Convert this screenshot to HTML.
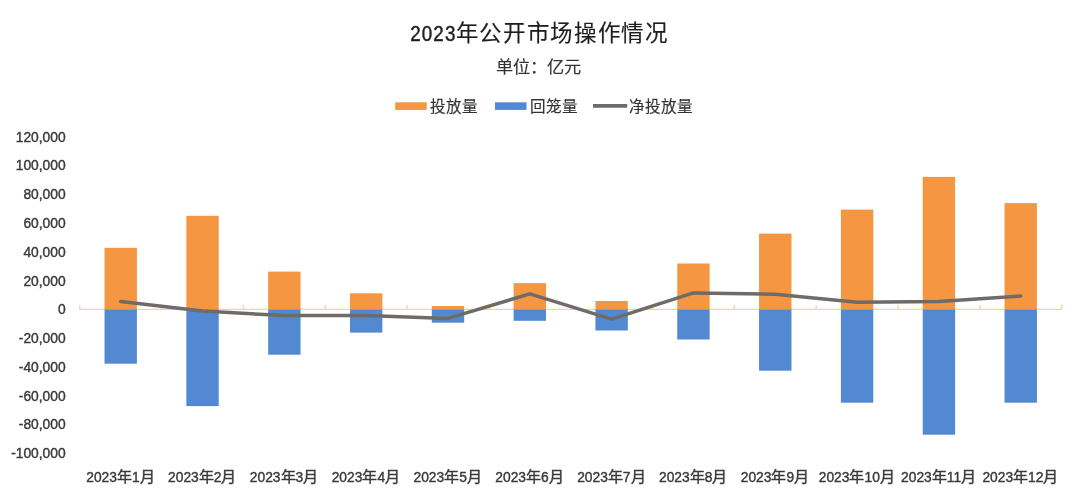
<!DOCTYPE html>
<html lang="zh-CN"><head><meta charset="utf-8">
<style>
html,body{margin:0;padding:0;background:#fff;width:1080px;height:499px;overflow:hidden}
svg{position:absolute;left:0;top:0;will-change:transform}
text{font-family:"Liberation Sans",sans-serif;fill:#3a3a3a}
.yl{font-size:13.8px;stroke:#3a3a3a;stroke-width:0.4px}
.xl{font-size:13.8px;stroke:#3a3a3a;stroke-width:0.4px}
.xc{font-size:15px}
.title{font-size:21.6px;fill:#1e1e1e;stroke:#1e1e1e;stroke-width:0.45px;letter-spacing:1.3px}
.tc{font-size:22.5px;letter-spacing:0.7px;fill:#1e1e1e;stroke:#1e1e1e;stroke-width:0.15px}
.sub{font-size:17.2px;fill:#333;stroke:#333;stroke-width:0.15px}
.leg{font-size:15.55px;fill:#333;stroke:#333;stroke-width:0.15px}
</style></head><body>
<svg width="1080" height="499" viewBox="0 0 1080 499">
<text transform="translate(410.2,41.3) scale(0.87,1)" x="0" y="0" class="title">2023</text><text x="455.6" y="41.4" class="tc">年公开市场操作情况</text>
<text x="495.6" y="73.1" class="sub">单位：亿元</text>
<rect x="395.2" y="102.3" width="31.5" height="7.6" fill="#F59643"/>
<text x="430" y="111.8" class="leg">投放量</text>
<rect x="495" y="102.3" width="31.5" height="7.6" fill="#5389D1"/>
<text x="529.6" y="111.8" class="leg">回笼量</text>
<line x1="593" y1="105.8" x2="627.2" y2="105.8" stroke="#6E6B68" stroke-width="3.8"/>
<text x="629.4" y="111.8" class="leg">净投放量</text>
<line x1="79.8" y1="309.4" x2="1061.64" y2="309.4" stroke="#E4DE9C" stroke-width="1.4"/>
<line x1="79.80" y1="304.9" x2="79.80" y2="309.4" stroke="#E4DE9C" stroke-width="1.4"/>
<line x1="161.62" y1="304.9" x2="161.62" y2="309.4" stroke="#E4DE9C" stroke-width="1.4"/>
<line x1="243.44" y1="304.9" x2="243.44" y2="309.4" stroke="#E4DE9C" stroke-width="1.4"/>
<line x1="325.26" y1="304.9" x2="325.26" y2="309.4" stroke="#E4DE9C" stroke-width="1.4"/>
<line x1="407.08" y1="304.9" x2="407.08" y2="309.4" stroke="#E4DE9C" stroke-width="1.4"/>
<line x1="488.90" y1="304.9" x2="488.90" y2="309.4" stroke="#E4DE9C" stroke-width="1.4"/>
<line x1="570.72" y1="304.9" x2="570.72" y2="309.4" stroke="#E4DE9C" stroke-width="1.4"/>
<line x1="652.54" y1="304.9" x2="652.54" y2="309.4" stroke="#E4DE9C" stroke-width="1.4"/>
<line x1="734.36" y1="304.9" x2="734.36" y2="309.4" stroke="#E4DE9C" stroke-width="1.4"/>
<line x1="816.18" y1="304.9" x2="816.18" y2="309.4" stroke="#E4DE9C" stroke-width="1.4"/>
<line x1="898.00" y1="304.9" x2="898.00" y2="309.4" stroke="#E4DE9C" stroke-width="1.4"/>
<line x1="979.82" y1="304.9" x2="979.82" y2="309.4" stroke="#E4DE9C" stroke-width="1.4"/>
<line x1="1061.64" y1="304.9" x2="1061.64" y2="309.4" stroke="#E4DE9C" stroke-width="1.4"/>
<rect x="104.51" y="247.80" width="32.4" height="61.60" fill="#F59643"/>
<rect x="104.51" y="309.40" width="32.4" height="54.30" fill="#5389D1"/>
<rect x="186.33" y="215.80" width="32.4" height="93.60" fill="#F59643"/>
<rect x="186.33" y="309.40" width="32.4" height="96.70" fill="#5389D1"/>
<rect x="268.15" y="271.60" width="32.4" height="37.80" fill="#F59643"/>
<rect x="268.15" y="309.40" width="32.4" height="45.30" fill="#5389D1"/>
<rect x="349.97" y="293.30" width="32.4" height="16.10" fill="#F59643"/>
<rect x="349.97" y="309.40" width="32.4" height="23.20" fill="#5389D1"/>
<rect x="431.79" y="306.00" width="32.4" height="3.40" fill="#F59643"/>
<rect x="431.79" y="309.40" width="32.4" height="13.30" fill="#5389D1"/>
<rect x="513.61" y="283.10" width="32.4" height="26.30" fill="#F59643"/>
<rect x="513.61" y="309.40" width="32.4" height="11.40" fill="#5389D1"/>
<rect x="595.43" y="301.00" width="32.4" height="8.40" fill="#F59643"/>
<rect x="595.43" y="309.40" width="32.4" height="21.10" fill="#5389D1"/>
<rect x="677.25" y="263.50" width="32.4" height="45.90" fill="#F59643"/>
<rect x="677.25" y="309.40" width="32.4" height="30.10" fill="#5389D1"/>
<rect x="759.07" y="233.60" width="32.4" height="75.80" fill="#F59643"/>
<rect x="759.07" y="309.40" width="32.4" height="61.30" fill="#5389D1"/>
<rect x="840.89" y="209.60" width="32.4" height="99.80" fill="#F59643"/>
<rect x="840.89" y="309.40" width="32.4" height="93.30" fill="#5389D1"/>
<rect x="922.71" y="176.90" width="32.4" height="132.50" fill="#F59643"/>
<rect x="922.71" y="309.40" width="32.4" height="125.30" fill="#5389D1"/>
<rect x="1004.53" y="203.10" width="32.4" height="106.30" fill="#F59643"/>
<rect x="1004.53" y="309.40" width="32.4" height="93.30" fill="#5389D1"/>
<path d="M120.71,301.60 L202.53,311.00 L284.35,315.60 L366.17,315.40 L447.99,318.40 L529.81,293.90 L611.63,319.20 L693.45,292.90 L775.27,294.30 L857.09,302.30 L938.91,301.60 L1020.73,296.00" fill="none" stroke="#6E6B68" stroke-width="3.5" stroke-linejoin="round" stroke-linecap="round"/>
<text x="65.6" y="141.70" text-anchor="end" class="yl">120,000</text>
<text x="65.6" y="170.47" text-anchor="end" class="yl">100,000</text>
<text x="65.6" y="199.24" text-anchor="end" class="yl">80,000</text>
<text x="65.6" y="228.01" text-anchor="end" class="yl">60,000</text>
<text x="65.6" y="256.78" text-anchor="end" class="yl">40,000</text>
<text x="65.6" y="285.55" text-anchor="end" class="yl">20,000</text>
<text x="65.6" y="314.32" text-anchor="end" class="yl">0</text>
<text x="65.6" y="343.09" text-anchor="end" class="yl">-20,000</text>
<text x="65.6" y="371.86" text-anchor="end" class="yl">-40,000</text>
<text x="65.6" y="400.63" text-anchor="end" class="yl">-60,000</text>
<text x="65.6" y="429.40" text-anchor="end" class="yl">-80,000</text>
<text x="65.6" y="458.17" text-anchor="end" class="yl">-100,000</text>
<text x="120.41" y="481.8" text-anchor="middle" class="xl">2023<tspan class="xc">年</tspan>1<tspan class="xc">月</tspan></text>
<text x="202.23" y="481.8" text-anchor="middle" class="xl">2023<tspan class="xc">年</tspan>2<tspan class="xc">月</tspan></text>
<text x="284.05" y="481.8" text-anchor="middle" class="xl">2023<tspan class="xc">年</tspan>3<tspan class="xc">月</tspan></text>
<text x="365.87" y="481.8" text-anchor="middle" class="xl">2023<tspan class="xc">年</tspan>4<tspan class="xc">月</tspan></text>
<text x="447.69" y="481.8" text-anchor="middle" class="xl">2023<tspan class="xc">年</tspan>5<tspan class="xc">月</tspan></text>
<text x="529.51" y="481.8" text-anchor="middle" class="xl">2023<tspan class="xc">年</tspan>6<tspan class="xc">月</tspan></text>
<text x="611.33" y="481.8" text-anchor="middle" class="xl">2023<tspan class="xc">年</tspan>7<tspan class="xc">月</tspan></text>
<text x="693.15" y="481.8" text-anchor="middle" class="xl">2023<tspan class="xc">年</tspan>8<tspan class="xc">月</tspan></text>
<text x="774.97" y="481.8" text-anchor="middle" class="xl">2023<tspan class="xc">年</tspan>9<tspan class="xc">月</tspan></text>
<text x="856.79" y="481.8" text-anchor="middle" class="xl">2023<tspan class="xc">年</tspan>10<tspan class="xc">月</tspan></text>
<text x="938.61" y="481.8" text-anchor="middle" class="xl">2023<tspan class="xc">年</tspan>11<tspan class="xc">月</tspan></text>
<text x="1020.43" y="481.8" text-anchor="middle" class="xl">2023<tspan class="xc">年</tspan>12<tspan class="xc">月</tspan></text>
</svg>
</body></html>
